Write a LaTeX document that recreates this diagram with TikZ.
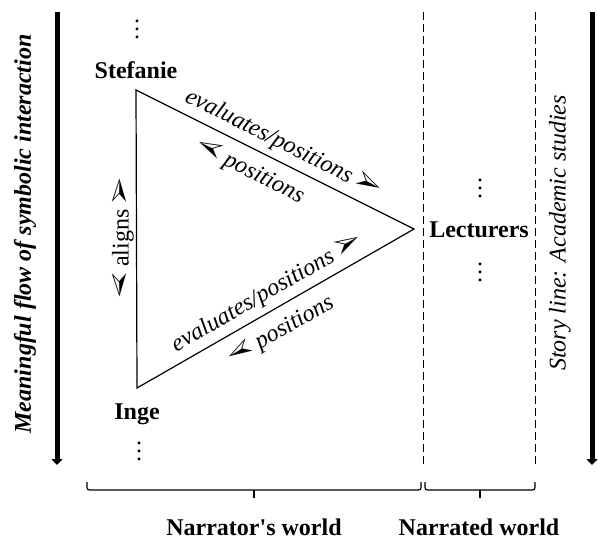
\documentclass[tikz,border=0pt]{standalone}
\usepackage{fontspec}
\setmainfont{Liberation Serif}
\newfontfamily\plainserif{Liberation Serif}
\usepackage{pifont}
\usepackage{graphicx}
\usetikzlibrary{arrows.meta}
\newcommand\arR{\scalebox{1.15}{\ding{226}}}
\newcommand\arL{\reflectbox{\scalebox{1.15}{\ding{226}}}}
\newcommand\dotcol{\vbox{\baselineskip4pt\lineskiplimit0pt\hbox{.}\hbox{.}\hbox{.}}}
\begin{document}
\begin{tikzpicture}[x=0.5pt,y=-0.5pt,
  every node/.style={font=\fontsize{12}{14}\selectfont},
  person/.style={font=\fontsize{12}{14}\selectfont\bfseries},
  dotsnode/.style={inner sep=0pt, anchor=south},
  tri/.style={line width=0.6pt, line join=miter},
  labA/.style={sloped, above, inner sep=3.0pt, font=\fontsize{12}{14}\selectfont\itshape},
  labB/.style={sloped, below, inner sep=5.6pt, font=\fontsize{12}{14}\selectfont\itshape},
  flow/.style={line width=2.5pt, -{Triangle[length=3pt,width=5.5pt]}},
  divider/.style={line width=0.5pt, dash pattern=on 4pt off 2pt},
  bracestyle/.style={line width=0.6pt, rounded corners=1.2pt},
  worldlabel/.style={font=\fontsize{12}{14}\selectfont\bfseries}
]
\useasboundingbox (0,0) rectangle (598,540);

% side arrows
\coordinate (lt) at (57,12);
\coordinate (lb) at (57,465);
\coordinate (rt) at (592,12);
\coordinate (rb) at (592,465);
\draw[flow] (lt) -- (lb);
\draw[flow] (rt) -- (rb);
\node[rotate=90, font=\fontsize{12}{14}\selectfont\bfseries\itshape] (flowtext) at (25,234) {Meaningful flow of symbolic interaction};
\node[rotate=90, font=\fontsize{12}{14}\selectfont\itshape] (storytext) at (560,233) {Story line: Academic studies};

% dashed dividers
\coordinate (d1t) at (423,12);
\coordinate (d1b) at (423,465);
\coordinate (d2t) at (535,12);
\coordinate (d2b) at (535,465);
\draw[divider] (d1t) -- (d1b);
\draw[divider] (d2t) -- (d2b);

% triangle
\coordinate (S) at (136,90);
\coordinate (L) at (414,229);
\coordinate (I) at (137,388);
\draw[tri] (S) -- (L) -- (I) -- cycle;
\path (S) -- node[labA] (e1) {evaluates/positions~\arR}
             node[labB, pos=0.445] (p1) {\arL~positions} (L);
\path (I) -- node[labA] (e2) {evaluates/positions~\arR}
             node[labB, pos=0.48] (p2) {\arL~positions} (L);
\node[rotate=90] (al) at (123,238) {\arL~aligns~\arR};

% persons
\node[person] (st) at (136,70) {Stefanie};
\node[person] (in) at (137,414) {Inge};
\node[person] (le) at (479,230) {Lecturers};
\node[dotsnode] (sd) at (137,39) {\dotcol};
\node[dotsnode] (id) at (139,461) {\dotcol};
\node[dotsnode] (ld1) at (480,198) {\dotcol};
\node[dotsnode] (ld2) at (480,282) {\dotcol};

% braces
\coordinate (b1l) at (87,482);
\coordinate (b1r) at (421,482);
\coordinate (b1m) at (254,490);
\coordinate (b1t) at (254,498);
\coordinate (b2l) at (425,482);
\coordinate (b2r) at (535,482);
\coordinate (b2m) at (480,490);
\coordinate (b2t) at (480,498);
\draw[bracestyle] (b1l) |- (b1m) -| (b1r);
\draw[line width=0.6pt] (b1m) -- (b1t);
\draw[bracestyle] (b2l) |- (b2m) -| (b2r);
\draw[line width=0.6pt] (b2m) -- (b2t);
\node[worldlabel] (nw) at (254,527) {Narrator{\plainserif\bfseries '}s world};
\node[worldlabel] (dw) at (479,527) {Narrated world};
\end{tikzpicture}
\end{document}
